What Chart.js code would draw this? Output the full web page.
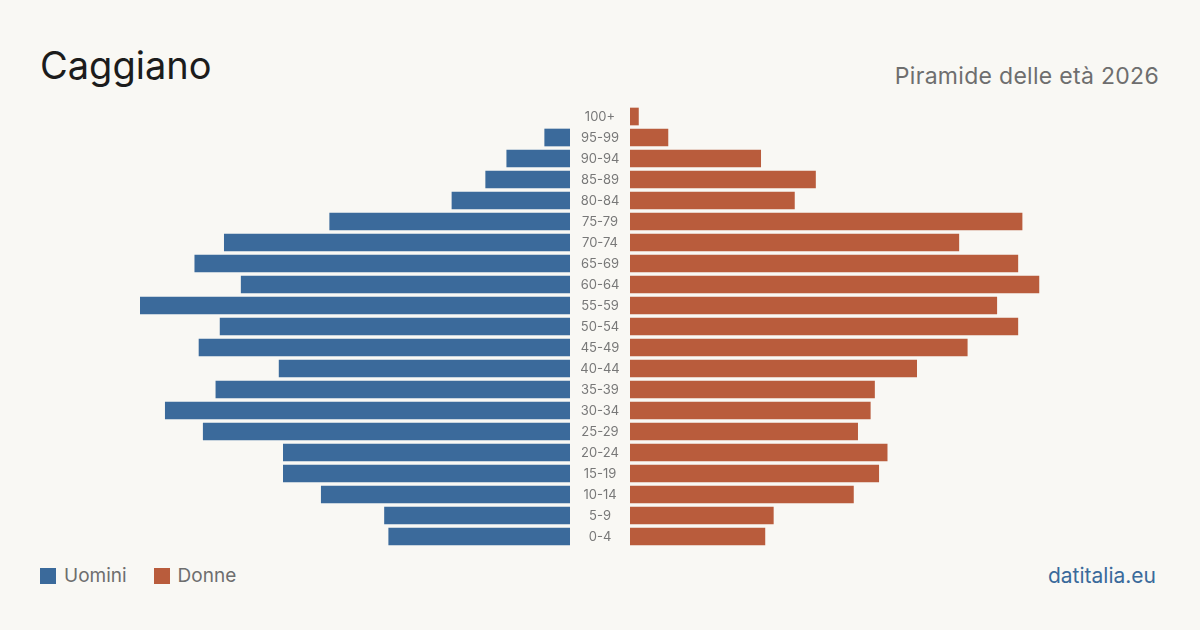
<!DOCTYPE html>
<html>
<head>
<meta charset="utf-8">
<script src="https://cdn.jsdelivr.net/npm/chart.js@4"></script>
<style>
  html, body { margin: 0; padding: 0; }
  body {
    width: 1200px; height: 630px; position: relative; overflow: hidden;
    background: #f9f8f4; font-family: Inter, "Noto Sans", sans-serif;
  }
  .title { position: absolute; left: 40px; top: 40px; font-size: 38px; line-height: 50px; color: #1c1c1c; }
  .subtitle { position: absolute; right: 41px; top: 61px; font-size: 23px; line-height: 30px; color: #6e6e6e; letter-spacing: 0.3px; }
  .legend { position: absolute; left: 40px; top: 564px; font-size: 19px; line-height: 24px; color: #6e6e6e; display: flex; align-items: center; }
  .legend span.box { display: inline-block; width: 16px; height: 16px; margin-right: 8px; }
  .legend .item { display: flex; align-items: center; margin-right: 27px; }
  .footer { position: absolute; right: 44px; top: 563px; font-size: 21px; line-height: 26px; color: #3a6a9b; }
  .wrap { position: absolute; top: 106px; height: 441px; }
</style>
</head>
<body>
<div class="title">Caggiano</div>
<div class="subtitle">Piramide delle età 2026</div>
<div class="legend">
  <div class="item"><span class="box" style="background:#3b6a9b"></span>Uomini</div>
  <div class="item"><span class="box" style="background:#b95c3c"></span>Donne</div>
</div>
<div class="footer">datitalia.eu</div>

<div class="wrap" style="left:140px;width:430px"><canvas id="men"></canvas></div>
<div class="wrap" style="left:570px;width:490px"><canvas id="women"></canvas></div>

<script>
// age classes, youngest first
const ageGroups = ["0-4", "5-9", "10-14", "15-19", "20-24", "25-29", "30-34", "35-39", "40-44", "45-49",
  "50-54", "55-59", "60-64", "65-69", "70-74", "75-79", "80-84", "85-89", "90-94", "95-99", "100+"];
const men = [43, 44, 59, 68, 68, 87, 96, 84, 69, 88, 83, 102, 78, 89, 82, 57, 28, 20, 15, 6, 0];
const women = [32, 34, 53, 59, 61, 54, 57, 58, 68, 80, 92, 87, 97, 92, 78, 93, 39, 44, 31, 9, 2];

const maxValue = Math.max(...men, ...women);
const menColor = "#3b6a9b";
const womenColor = "#b95c3c";

function baseOptions(reverseX) {
  return {
    indexAxis: "y",
    responsive: true,
    maintainAspectRatio: false,
    animation: false,
    plugins: { legend: { display: false }, tooltip: { enabled: false } },
    scales: {
      x: { display: false, min: 0, max: maxValue, reverse: reverseX },
      y: { display: false, reverse: true },
    },
  };
}

// zero counts: skip the bar so no hairline is drawn
const noZero = (arr) => arr.map((v) => (v === 0 ? null : v));

new Chart(document.getElementById("men"), {
  type: "bar",
  data: {
    labels: ageGroups,
    datasets: [{ label: "Uomini", data: noZero(men), backgroundColor: menColor, barThickness: 17 }],
  },
  options: baseOptions(true),
});

// draws the age labels in the gutter between the two halves
const ageLabels = {
  id: "ageLabels",
  afterDraw(chart) {
    const ctx = chart.ctx;
    const yScale = chart.scales.y;
    const cx = chart.chartArea.left - 30;
    ctx.save();
    ctx.font = "13px Inter, sans-serif";
    ctx.fillStyle = "#787878";
    ctx.textAlign = "center";
    ctx.textBaseline = "middle";
    ageGroups.forEach((g, i) => {
      ctx.fillText(g, cx, yScale.getPixelForValue(i) + 1);
    });
    ctx.restore();
  },
};

const womenOpts = baseOptions(false);
womenOpts.layout = { padding: { left: 60 } };
new Chart(document.getElementById("women"), {
  type: "bar",
  data: {
    labels: ageGroups,
    datasets: [{ label: "Donne", data: noZero(women), backgroundColor: womenColor, barThickness: 17 }],
  },
  options: womenOpts,
  plugins: [ageLabels],
});
</script>
</body>
</html>
